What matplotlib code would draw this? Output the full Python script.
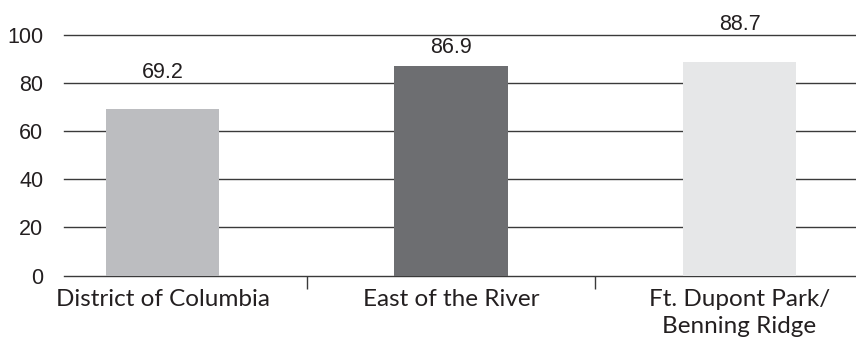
import matplotlib.pyplot as plt

# data
areas = ["District of Columbia", "East of the River", "Ft. Dupont Park/\nBenning Ridge"]
values = [69.2, 86.9, 88.7]
bar_colors = ["#BCBDC0", "#6D6E71", "#E6E7E8"]
label_offsets = [26, 14, 27]  # points above each bar

num_font = ["Liberation Sans", "DejaVu Sans"]
cat_font = ["Lato", "DejaVu Sans"]

text_color = "#231F20"
line_color = "#3A3A3A"

fig = plt.figure(figsize=(8.56, 3.45), dpi=100)
ax = fig.add_axes([0.0748, 0.2014, 0.9252, 0.6972])

x = list(range(len(values)))
ax.bar(x, values, width=0.392, color=bar_colors, zorder=2)

for xi, v, off in zip(x, values, label_offsets):
    ax.annotate(f"{v:.1f}", (xi, v), xytext=(0, off), textcoords="offset points",
                ha="center", va="center", fontsize=15.5, family=num_font,
                color=text_color, annotation_clip=False)

ax.set_xlim(-0.3414, 2.4038)
ax.set_ylim(0, 100)
ax.set_yticks(range(0, 101, 20))
ax.set_axisbelow(True)
ax.yaxis.grid(True, color=line_color, linewidth=1.0)
for gl in ax.get_ygridlines():
    gl.set_clip_on(False)
for s in ["left", "right", "top", "bottom"]:
    ax.spines[s].set_visible(False)

ax.tick_params(axis="y", length=0, pad=15, labelsize=15.5, labelcolor=text_color)
for t in ax.get_yticklabels():
    t.set_family(num_font)

ax.set_xticks(x)
ax.set_xticklabels(areas, fontsize=17.5, family=cat_font, color=text_color, linespacing=1.35)
ax.tick_params(axis="x", which="major", length=0, pad=10)
ax.set_xticks([0.5, 1.5], minor=True)
ax.tick_params(axis="x", which="minor", length=9, width=1.0, color=line_color, direction="out")

fig.savefig("out.png", dpi=100)
